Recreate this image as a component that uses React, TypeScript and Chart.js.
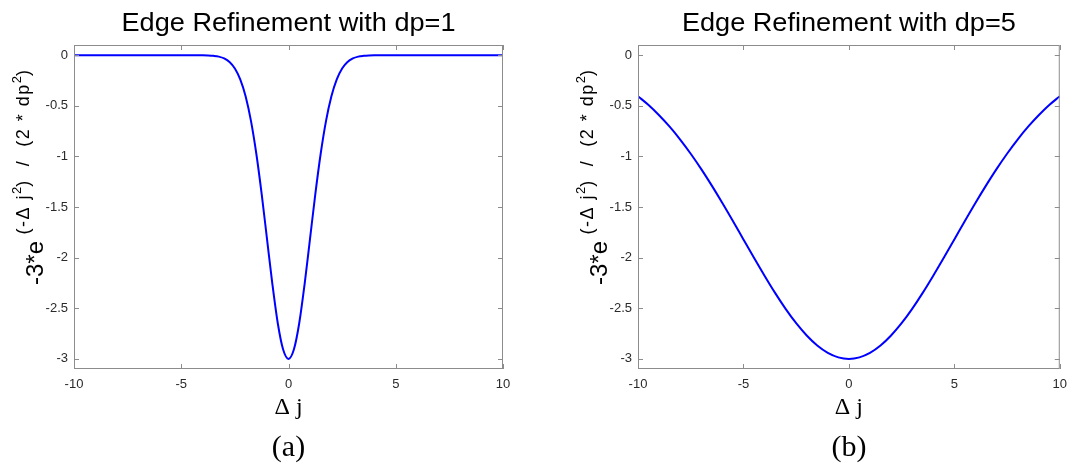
import { useEffect, useRef } from "react";
import { Chart, registerables } from "chart.js";

Chart.register(...registerables);

// Δj offsets and edge-refinement weights for dp = 1
const deltaJ1 = [
  -10, -9, -8, -7, -6, -5, -4.5, -4, -3.75, -3.5, -3.25, -3, -2.75, -2.5, -2.25, -2,
  -1.75, -1.5, -1.25, -1, -0.75, -0.5, -0.25, 0, 0.25, 0.5, 0.75, 1, 1.25, 1.5, 1.75,
  2, 2.25, 2.5, 2.75, 3, 3.25, 3.5, 3.75, 4, 4.5, 5, 6, 7, 8, 9, 10,
];
const weight1 = [
  0, 0, 0, 0, 0, 0, 0, -0.001, -0.003, -0.007, -0.015, -0.033, -0.068, -0.132, -0.239, -0.406,
  -0.649, -0.974, -1.373, -1.82, -2.264, -2.648, -2.908, -3.0, -2.908, -2.648, -2.264, -1.82, -1.373, -0.974, -0.649,
  -0.406, -0.239, -0.132, -0.068, -0.033, -0.015, -0.007, -0.003, -0.001, 0, 0, 0, 0, 0, 0, 0,
];

// Δj offsets and edge-refinement weights for dp = 5
const deltaJ5 = [
  -10, -9.5, -9, -8.5, -8, -7.5, -7, -6.5, -6, -5.5, -5, -4.5, -4, -3.5, -3, -2.5, -2, -1.5, -1, -0.5,
  0, 0.5, 1, 1.5, 2, 2.5, 3, 3.5, 4, 4.5, 5, 5.5, 6, 6.5, 7, 7.5, 8, 8.5, 9, 9.5, 10,
];
const weight5 = [
  -0.406, -0.493, -0.594, -0.707, -0.834, -0.974, -1.126, -1.289, -1.46, -1.638, -1.82, -2.001, -2.178, -2.348, -2.506, -2.648, -2.769, -2.868, -2.941, -2.985,
  -3.0, -2.985, -2.941, -2.868, -2.769, -2.648, -2.506, -2.348, -2.178, -2.001, -1.82, -1.638, -1.46, -1.289, -1.126, -0.974, -0.834, -0.707, -0.594, -0.493, -0.406,
];

const xTickValues = [-10, -5, 0, 5, 10];
const yTickValues = [0, -0.5, -1, -1.5, -2, -2.5, -3];

const titles = ["Edge Refinement with dp=1", "Edge Refinement with dp=5"];
const captions = ["(a)", "(b)"];
const xAxisLabel = "Δ j";

const SANS = '"Liberation Sans", Arial, sans-serif';
const SERIF = '"Liberation Serif", "Times New Roman", serif';
const AXIS_COLOR = "#8c8c8c";
const TICK_TEXT = "#2a2a2a";
const LINE_BLUE = "#0000ff";

interface PanelLayout {
  width: number;
  yAxisWidth: number;
  padRight: number;
}

const CANVAS_H = 466;
const PLOT_TOP = 45;
const PLOT_BOTTOM = 369;

// y-axis label: -3*e^((-Δ j^2) / (2 * dp^2)), written bottom to top
function drawYLabel(ctx: CanvasRenderingContext2D, x: number, y: number) {
  ctx.save();
  ctx.translate(x, y);
  ctx.rotate(-Math.PI / 2);
  ctx.fillStyle = "#000";
  ctx.textBaseline = "alphabetic";
  ctx.textAlign = "left";
  let u = 0;
  const seg = (text: string, size: number, rise: number, spacing: number) => {
    ctx.font = `${size}px ${SANS}`;
    (ctx as any).letterSpacing = `${spacing}px`;
    ctx.fillText(text, u, -rise);
    u += ctx.measureText(text).width;
  };
  seg("-3*e", 24, 0, 0);
  seg(" (-Δ j", 18, 14, 1.5);
  seg("2", 13, 22, 0);
  seg(")  /  (2 * dp", 18, 14, 1.5);
  seg("2", 13, 22, 0);
  seg(")", 18, 14, 0);
  (ctx as any).letterSpacing = "0px";
  ctx.restore();
}

function makeFigureText(title: string, caption: string) {
  return {
    id: "figureText",
    afterDraw(chart: Chart) {
      const { ctx, chartArea: a, scales } = chart;
      const xs = scales.x;
      const ys = scales.y;
      const cx = (a.left + a.right) / 2;
      ctx.save();

      // axes box with inward tick marks on all four sides
      ctx.strokeStyle = AXIS_COLOR;
      ctx.lineWidth = 1;
      ctx.strokeRect(a.left + 0.5, a.top + 0.5, a.right - a.left - 1, a.bottom - a.top - 1);
      ctx.beginPath();
      const tl = 5;
      for (const v of yTickValues) {
        const py = Math.round(ys.getPixelForValue(v)) + 0.5;
        ctx.moveTo(a.left, py);
        ctx.lineTo(a.left + tl, py);
        ctx.moveTo(a.right, py);
        ctx.lineTo(a.right - tl, py);
      }
      for (const v of xTickValues) {
        const px = Math.round(xs.getPixelForValue(v)) + 0.5;
        ctx.moveTo(px, a.bottom);
        ctx.lineTo(px, a.bottom - tl);
        ctx.moveTo(px, a.top);
        ctx.lineTo(px, a.top + tl);
      }
      ctx.stroke();

      // title, slightly widened like the plotting tool's renderer
      ctx.fillStyle = "#000";
      ctx.font = `26px ${SANS}`;
      ctx.textBaseline = "alphabetic";
      ctx.textAlign = "center";
      const tw = ctx.measureText(title).width;
      const sx = 334 / tw;
      ctx.save();
      ctx.translate(cx, 31);
      ctx.scale(sx, 1);
      ctx.fillText(title, 0, 0);
      ctx.restore();

      // x-axis label and sub-figure caption
      ctx.font = `24px ${SERIF}`;
      ctx.fillText(xAxisLabel, cx, 414);
      ctx.font = `30px ${SERIF}`;
      ctx.fillText(caption, cx, 456);

      ctx.restore();

      drawYLabel(ctx, a.left - 31, 285);
    },
  };
}

function buildPanel(
  canvas: HTMLCanvasElement,
  xs: number[],
  ys: number[],
  title: string,
  caption: string,
  layout: PanelLayout
) {
  const tickFont = { family: SANS, size: 13 };
  return new Chart(canvas, {
    type: "line",
    data: {
      datasets: [
        {
          data: xs.map((x, i) => ({ x, y: ys[i] })),
          borderColor: LINE_BLUE,
          borderWidth: 2,
          pointRadius: 0,
          fill: false,
          cubicInterpolationMode: "monotone",
        },
      ],
    },
    options: {
      animation: false,
      responsive: false,
      devicePixelRatio: 1,
      layout: { padding: { left: 0, top: PLOT_TOP, right: layout.padRight, bottom: 0 } },
      plugins: {
        legend: { display: false },
        tooltip: { enabled: false },
        title: { display: false },
      },
      scales: {
        x: {
          type: "linear",
          min: -10,
          max: 10,
          grid: { display: false, drawTicks: false },
          border: { display: false },
          ticks: {
            padding: 8,
            color: TICK_TEXT,
            font: tickFont,
            maxRotation: 0,
            callback: (v: any) => String(v),
          },
          afterBuildTicks: (s: any) => {
            s.ticks = xTickValues.map((value) => ({ value }));
          },
          afterFit: (s: any) => {
            s.height = CANVAS_H - PLOT_BOTTOM;
          },
        },
        y: {
          type: "linear",
          min: -3.1,
          max: 0.1,
          grid: { display: false, drawTicks: false },
          border: { display: false },
          ticks: {
            padding: 6,
            color: TICK_TEXT,
            font: tickFont,
            callback: (v: any) => String(v),
          },
          afterBuildTicks: (s: any) => {
            s.ticks = yTickValues.map((value) => ({ value }));
          },
          afterFit: (s: any) => {
            s.width = layout.yAxisWidth;
          },
        },
      },
    },
    plugins: [makeFigureText(title, caption)],
  } as any);
}

const leftLayout: PanelLayout = { width: 537, yAxisWidth: 74, padRight: 34 };
const rightLayout: PanelLayout = { width: 538, yAxisWidth: 101, padRight: 8 };

export default function App() {
  const leftRef = useRef<HTMLCanvasElement>(null);
  const rightRef = useRef<HTMLCanvasElement>(null);

  useEffect(() => {
    const charts = [
      buildPanel(leftRef.current!, deltaJ1, weight1, titles[0], captions[0], leftLayout),
      buildPanel(rightRef.current!, deltaJ5, weight5, titles[1], captions[1], rightLayout),
    ];
    return () => charts.forEach((c) => c.destroy());
  }, []);

  return (
    <div
      style={{
        position: "absolute",
        left: 0,
        top: 0,
        width: 1075,
        height: CANVAS_H,
        background: "#fff",
        display: "flex",
      }}
    >
      <canvas
        ref={leftRef}
        width={leftLayout.width}
        height={CANVAS_H}
        style={{ width: leftLayout.width, height: CANVAS_H, display: "block" }}
      />
      <canvas
        ref={rightRef}
        width={rightLayout.width}
        height={CANVAS_H}
        style={{ width: rightLayout.width, height: CANVAS_H, display: "block" }}
      />
    </div>
  );
}
